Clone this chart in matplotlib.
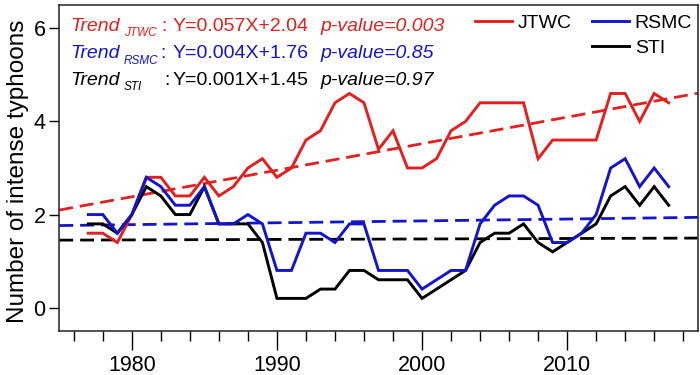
"""
Intense typhoon counts from three best-track datasets, with linear trends
"""

import numpy as np
import matplotlib
matplotlib.use('Agg')
import matplotlib.pyplot as plt
from matplotlib.lines import Line2D

plt.rcParams['font.family'] = ['Liberation Sans', 'DejaVu Sans']

# data (5-yr running means)
years = list(range(1977, 2018))
jtwc = [1.6, 1.6, 1.4, 2.0, 2.8, 2.8, 2.4, 2.4, 2.8, 2.4,
        2.6, 3.0, 3.2, 2.8, 3.0, 3.6, 3.8, 4.4, 4.6, 4.4,
        3.4, 3.8, 3.0, 3.0, 3.2, 3.8, 4.0, 4.4, 4.4, 4.4,
        4.4, 3.2, 3.6, 3.6, 3.6, 3.6, 4.6, 4.6, 4.0, 4.6, 4.4]
rsmc = [2.0, 2.0, 1.6, 2.0, 2.8, 2.6, 2.2, 2.2, 2.6, 1.8,
        1.8, 2.0, 1.8, 0.8, 0.8, 1.6, 1.6, 1.4, 1.8, 1.8,
        0.8, 0.8, 0.8, 0.4, 0.6, 0.8, 0.8, 1.8, 2.2, 2.4,
        2.4, 2.2, 1.4, 1.4, 1.6, 2.0, 3.0, 3.2, 2.6, 3.0, 2.6]
sti = [1.8, 1.8, 1.6, 2.0, 2.6, 2.4, 2.0, 2.0, 2.6, 1.8,
       1.8, 1.8, 1.4, 0.2, 0.2, 0.2, 0.4, 0.4, 0.8, 0.8,
       0.6, 0.6, 0.6, 0.2, 0.4, 0.6, 0.8, 1.4, 1.6, 1.6,
       1.8, 1.4, 1.2, 1.4, 1.6, 1.8, 2.4, 2.6, 2.2, 2.6, 2.2]

names = ['JTWC', 'RSMC', 'STI']
trend_slope = [0.057, 0.004, 0.001]
trend_intercept = [2.04, 1.76, 1.45]
p_values = ['0.003', '0.85', '0.97']
x_origin = 1974  # X = year - x_origin

colors = ['#e3201f', '#1414cc', '#000000']
xlim = (1975, 2019)

fig = plt.figure(figsize=(7, 3.75), dpi=100)
ax = fig.add_axes([59.3 / 700, 1 - 331 / 375, 638.4 / 700, 326 / 375])


def px(x, y):
    """pixel position -> figure fraction"""
    return x / 700, 1 - y / 375


series = [jtwc, rsmc, sti]
handles = []
for name, vals, c in zip(names, series, colors):
    h, = ax.plot(years, vals, color=c, lw=2.1, solid_joinstyle='miter',
                 zorder=3)
    handles.append(h)
# blue above black
handles[1].set_zorder(4)

# trend lines over the full axis range
xt = np.array(xlim, dtype=float)
for k, b, c in zip(trend_slope, trend_intercept, colors):
    ax.plot(xt, b + k * (xt - x_origin), color=c, lw=2.0,
            ls=(0, (5, 2.5)), zorder=1)

ax.set_xlim(*xlim)
ax.set_ylim(-0.5, 6.5)
ax.set_yticks([0, 2, 4, 6])
ax.set_xticks([1980, 1990, 2000, 2010])
ax.set_xticks([y for y in range(1976, 2019, 2) if y % 10 != 0], minor=True)
ax.tick_params(axis='x', which='major', direction='out', length=13.5,
               width=1.0, pad=3.5, labelsize=15.5)
ax.tick_params(axis='x', which='minor', direction='out', length=7, width=1.0)
ax.tick_params(axis='y', direction='out', length=7, width=1.0, pad=3,
               labelsize=15.5)
for sp in ax.spines.values():
    sp.set_linewidth(1.1)
    sp.set_color('#222222')

ax.set_ylabel('Number of intense typhoons', fontsize=17.5)
ax.yaxis.set_label_coords(-0.0475, 0.49)

# trend annotations
rows_y = [31, 58.3, 85]
colon_x = [161, 160, 164]
for i, name in enumerate(names):
    c = colors[i]
    yb = rows_y[i]
    fig.text(*px(70, yb), 'Trend', color=c, style='italic', fontsize=14,
             va='baseline')
    fig.text(*px(124, yb + 5.5), name, color=c, style='italic', fontsize=8.5,
             va='baseline')
    fig.text(*px(colon_x[i], yb), ':', color=c, fontsize=14, va='baseline')
    eq = 'Y={:.3f}X+{:.2f}'.format(trend_slope[i], trend_intercept[i])
    fig.text(*px(173, yb), eq, color=c, fontsize=14, va='baseline')
    fig.text(*px(320.5, yb), 'p-value=' + p_values[i], color=c,
             style='italic', fontsize=14, va='baseline')

# legend: JTWC alone in the first column, RSMC/STI in the second
blank = Line2D([], [], color='none')
ax.legend([handles[0], blank, handles[1], handles[2]],
          ['JTWC', '', 'RSMC', 'STI'], ncol=2, frameon=False,
          loc='upper right', bbox_to_anchor=px(692, 14), bbox_transform=fig.transFigure,
          fontsize=14, handlelength=1.9, handletextpad=0.3,
          columnspacing=1.05, labelspacing=0.4, borderpad=0, borderaxespad=0)

fig.savefig('out.png', dpi=100)
